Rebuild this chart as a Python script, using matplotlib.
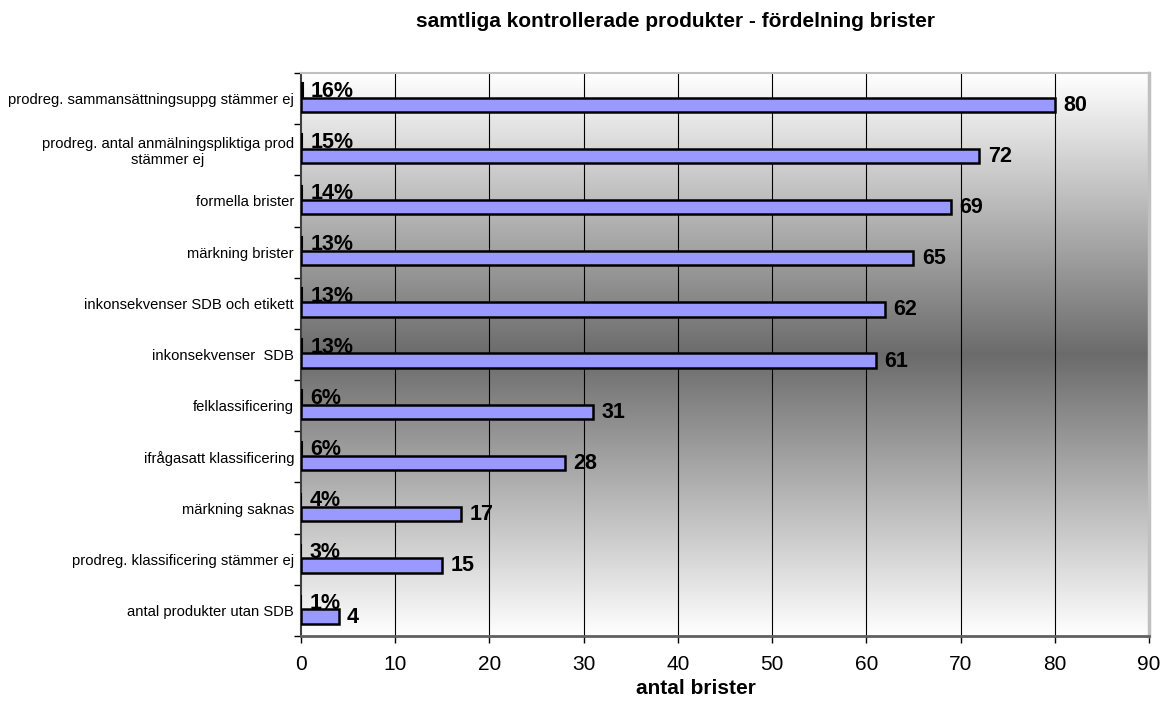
import numpy as np
import matplotlib.pyplot as plt
from matplotlib.colors import LinearSegmentedColormap

plt.rcParams['font.family'] = ['Liberation Sans', 'DejaVu Sans']

categories = [
    'prodreg. sammansättningsuppg stämmer ej',
    'prodreg. antal anmälningspliktiga prod\nstämmer ej',
    'formella brister',
    'märkning brister',
    'inkonsekvenser SDB och etikett',
    'inkonsekvenser  SDB',
    'felklassificering',
    'ifrågasatt klassificering',
    'märkning saknas',
    'prodreg. klassificering stämmer ej',
    'antal produkter utan SDB',
]
counts = [80, 72, 69, 65, 62, 61, 31, 28, 17, 15, 4]
shares = [0.16, 0.15, 0.14, 0.13, 0.13, 0.13, 0.06, 0.06, 0.04, 0.03, 0.01]
share_labels = ['16%', '15%', '14%', '13%', '13%', '13%', '6%', '6%', '4%', '3%', '1%']
xticks = [0, 10, 20, 30, 40, 50, 60, 70, 80, 90]

fig = plt.figure(figsize=(11.62, 7.01), dpi=100)
ax = fig.add_axes([301 / 1162, 65 / 701, 848 / 1162, 563 / 701])

# background gradient: white - dark gray - white
cmap = LinearSegmentedColormap.from_list('bg', ['#ffffff', '#6b6b6b', '#ffffff'])
grad = np.linspace(0, 1, 256).reshape(-1, 1)
ax.imshow(grad, cmap=cmap, aspect='auto', extent=[0, 1, 0, 1],
          transform=ax.transAxes, zorder=0)

y = np.arange(len(categories))
h = 0.28
ax.barh(y + 0.12, counts, height=h, color='#9999ff', edgecolor='black',
        linewidth=1.8, zorder=3)
ax.barh(y - 0.16, shares, height=h, color='black', edgecolor='black',
        linewidth=1.5, zorder=3)

for yi, c in zip(y, counts):
    ax.annotate(str(c), (c, yi + 0.13), xytext=(6, 0), textcoords='offset points',
                va='center', ha='left', fontsize=15.5, fontweight='bold', zorder=4)
for yi, s, lab in zip(y, shares, share_labels):
    ax.annotate(lab, (s, yi - 0.14), xytext=(6, 0), textcoords='offset points',
                va='center', ha='left', fontsize=15.5, fontweight='bold', zorder=2)

ax.set_xlim(0, 90)
ax.set_ylim(len(categories) - 0.5, -0.5)
ax.set_xticks(xticks)
ax.tick_params(axis='x', labelsize=15, length=5, width=1, direction='out', pad=9)
ax.set_yticks(y)
ax.set_yticklabels(categories, fontsize=10.6, ha='right', multialignment='center')
ax.tick_params(axis='y', length=0, pad=5)
ax.set_yticks(np.arange(-0.5, len(categories)), minor=True)
ax.tick_params(axis='y', which='minor', length=5, width=1)

for x in xticks[1:-1]:
    ax.axvline(x, color='black', linewidth=0.8, zorder=1)

ax.spines['top'].set_color('#c0c0c0')
ax.spines['right'].set_color('#c0c0c0')
ax.spines['right'].set_linewidth(2.5)
ax.spines['top'].set_linewidth(1.5)
ax.spines['left'].set_color('#404040')
ax.spines['left'].set_linewidth(1.5)
ax.spines['bottom'].set_color('#606060')
ax.spines['bottom'].set_linewidth(2)

fig.text(696 / 1162, 1 - 689 / 701, 'antal brister', ha='center', va='center',
         fontsize=15, fontweight='bold')

fig.text(0.581, 0.969, 'samtliga kontrollerade produkter - fördelning brister',
         ha='center', va='center', fontsize=15, fontweight='bold')

fig.savefig('out.png', dpi=100)
